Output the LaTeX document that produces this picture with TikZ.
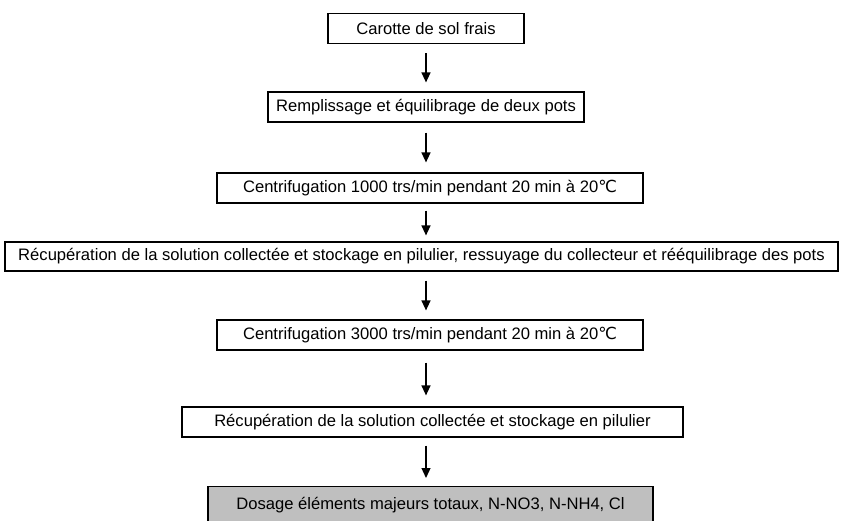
\documentclass[tikz,border=0pt]{standalone}
\usepackage{fontspec}
\setmainfont{Liberation Sans}
\newfontfamily\symboles{DejaVu Sans}
\usetikzlibrary{arrows.meta, positioning}

\newcommand{\degC}{{\symboles\char"2103}}

\begin{document}
\begin{tikzpicture}[
  x=1pt, y=-1pt,
  font=\fontsize{16.6}{19}\selectfont,
  etape/.style={draw=black, line width=1.2pt, fill=white, inner sep=0pt, minimum height=30pt},
  final/.style={etape, fill=black!25},
  fleche/.style={draw=black, line width=1.3pt, -{Triangle[length=10pt,width=9pt]}}
]
\useasboundingbox (0,0) rectangle (843,521);

% ---- etapes du protocole ----------------------------------------------
\node[etape, minimum width=196pt] (carotte) at (426,28.5) {Carotte de sol frais};
\node[etape, minimum width=316pt] (remplissage) at (426,107) {Remplissage et équilibrage de deux pots};
\node[etape, minimum width=426pt] (centriA) at (430,188) {Centrifugation 1000 trs/min pendant 20 min à 20\degC};
\node[etape, minimum width=833pt, minimum height=29pt] (recupA) at (421.5,256.5)
  {Récupération de la solution collectée et stockage en pilulier, ressuyage du collecteur et rééquilibrage des pots};
\node[etape, minimum width=426pt] (centriB) at (430,335) {Centrifugation 3000 trs/min pendant 20 min à 20\degC};
\node[etape, minimum width=501pt] (recupB) at (432.5,422) {Récupération de la solution collectée et stockage en pilulier};
\node[final, minimum width=445pt, minimum height=44pt, text depth=0pt, anchor=north] (dosage) at (430.5,486)
  {\raisebox{10pt}{Dosage éléments majeurs totaux, N-NO3, N-NH4, Cl}};

% ---- fleches (depart/arrivee : retraits) -------------------------------
\coordinate (axe) at (426,0);
\foreach \a/\b/\ra/\rb in {carotte/remplissage/9/9, remplissage/centriA/10/10,
                           centriA/recupA/7/6, recupA/centriB/9/9,
                           centriB/recupB/12/11, recupB/dosage/8/8} {
  \draw[fleche, shorten <=\ra pt, shorten >=\rb pt] (\a.south -| axe) -- (\b.north -| axe);
}

\end{tikzpicture}
\end{document}
